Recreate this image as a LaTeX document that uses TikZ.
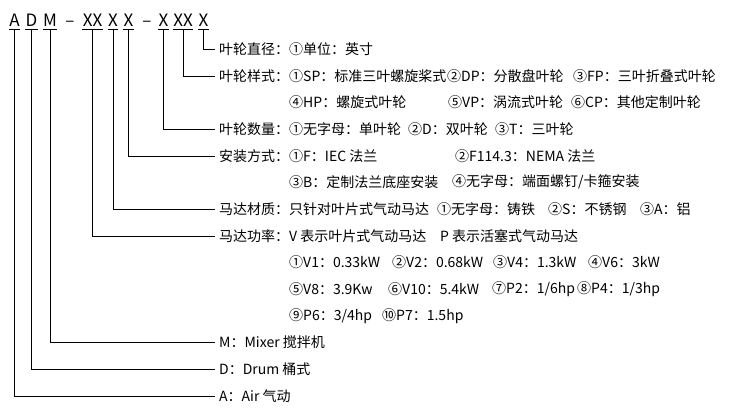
\documentclass[tikz,border=0pt]{standalone}
\usepackage{fontspec}
\setmainfont{Noto Sans CJK SC}

\begin{document}
\begin{tikzpicture}[x=1pt,y=-1pt,
    code/.style={anchor=base,inner xsep=0.3pt,inner ysep=0pt,text depth=1.8pt,font=\fontsize{17}{20}\selectfont},
    lab/.style={anchor=west,inner xsep=4pt,inner ysep=0pt,font=\fontsize{14}{16}\selectfont},
    opt/.style={anchor=west,inner sep=0pt,font=\fontsize{14}{16}\selectfont},
    lead/.style={line width=0.9pt}]
  \useasboundingbox (0,0) rectangle (750,417);
  % model code
  \node[code] (cA) at (14.5,27) {A};
  \node[code] (cD) at (31.5,27) {D};
  \node[code] (cM) at (50,27) {M};
  \node[code] (dashA) at (70,27) {–};
  \node[code] (cPow) at (92.5,27) {XX};
  \node[code] (cMat) at (113,27) {X};
  \node[code] (cMnt) at (128.5,27) {X};
  \node[code] (dashB) at (147,27) {–};
  \node[code] (cNum) at (163.5,27) {X};
  \node[code] (cTyp) at (183,27) {XX};
  \node[code] (cDia) at (203.5,27) {X};
  \foreach \c in {cA,cD,cM,cPow,cMat,cMnt,cNum,cTyp,cDia}
    \draw[lead] (\c.south west) -- (\c.south east);
  % labels
  \node[lab] (dia) at (215,49) {叶轮直径：};
  \node[lab] (typ) at (215,76) {叶轮样式：};
  \node[lab] (num) at (215,129) {叶轮数量：};
  \node[lab] (mnt) at (215,156) {安装方式：};
  \node[lab] (mat) at (215,209) {马达材质：};
  \node[lab] (pow) at (215,236) {马达功率：};
  \node[lab] (mix) at (215,342) {M：Mixer 搅拌机};
  \node[lab] (drm) at (215,369) {D：Drum 桶式};
  \node[lab] (air) at (215,396) {A：Air 气动};
  % options
  \node[opt] (dia1) at (289,49) {①单位：英寸};
  \node[opt] (typ1) at (289,76) {①SP：标准三叶螺旋桨式};
  \node[opt] (typ2) at (447,76) {②DP：分散盘叶轮};
  \node[opt] (typ3) at (573,76) {③FP：三叶折叠式叶轮};
  \node[opt] (typ4) at (289,102) {④HP：螺旋式叶轮};
  \node[opt] (typ5) at (448,102) {⑤VP：涡流式叶轮};
  \node[opt] (typ6) at (571,102) {⑥CP：其他定制叶轮};
  \node[opt] (num1) at (289,129) {①无字母：单叶轮};
  \node[opt] (num2) at (408,129) {②D：双叶轮};
  \node[opt] (num3) at (495,129) {③T：三叶轮};
  \node[opt] (mnt1) at (289,156) {①F：IEC 法兰};
  \node[opt] (mnt2) at (455,156) {②F114.3：NEMA 法兰};
  \node[opt] (mnt3) at (289,182) {③B：定制法兰底座安装};
  \node[opt] (mnt4) at (452,182) {④无字母：端面螺钉/卡箍安装};
  \node[opt] (mat0) at (289,209) {只针对叶片式气动马达};
  \node[opt] (mat1) at (437,209) {①无字母：铸铁};
  \node[opt] (mat2) at (548,209) {②S：不锈钢};
  \node[opt] (mat3) at (640,209) {③A：铝};
  \node[opt] (powV) at (289,236) {V 表示叶片式气动马达};
  \node[opt] (powP) at (440,236) {P 表示活塞式气动马达};
  \node[opt] (pow1) at (289,262) {①V1：0.33kW};
  \node[opt] (pow2) at (392,262) {②V2：0.68kW};
  \node[opt] (pow3) at (493,262) {③V4：1.3kW};
  \node[opt] (pow4) at (588,262) {④V6：3kW};
  \node[opt] (pow5) at (289,289) {⑤V8：3.9Kw};
  \node[opt] (pow6) at (388,289) {⑥V10：5.4kW};
  \node[opt] (pow7) at (492,289) {⑦P2：1/6hp};
  \node[opt] (pow8) at (577,289) {⑧P4：1/3hp};
  \node[opt] (pow9) at (289,316) {⑨P6：3/4hp};
  \node[opt] (pow10) at (382,316) {⑩P7：1.5hp};
  % leaders
  \draw[lead] (cDia.south) |- (dia.west);
  \draw[lead] (cTyp.south) |- (typ.west);
  \draw[lead] (cNum.south) |- (num.west);
  \draw[lead] (cMnt.south) |- (mnt.west);
  \draw[lead] (cMat.south) |- (mat.west);
  \draw[lead] (cPow.south) |- (pow.west);
  \draw[lead] (cM.south) |- (mix.west);
  \draw[lead] (cD.south) |- (drm.west);
  \draw[lead] (cA.south) |- (air.west);
\end{tikzpicture}
\end{document}
